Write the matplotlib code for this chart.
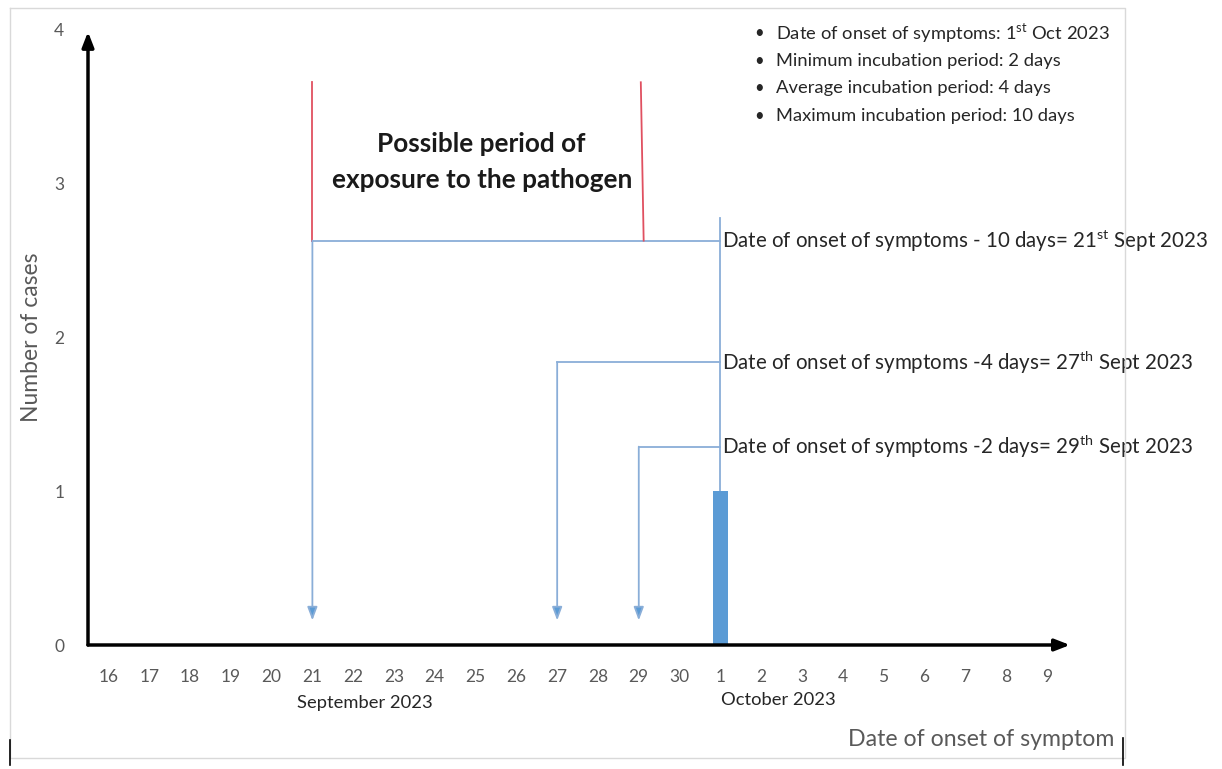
import numpy as np
import matplotlib.pyplot as plt

plt.rcParams['font.family'] = ['Lato', 'DejaVu Sans']
plt.rcParams['mathtext.fontset'] = 'custom'
plt.rcParams['mathtext.rm'] = 'Lato'

# DATA
sept_days = list(range(16, 31))
oct_days = list(range(1, 10))
day_labels = [str(d) for d in sept_days + oct_days]
onset_label = '1'            # 1st Oct 2023
cases = [1]                  # cases on onset day
incubation_days = [10, 4, 2]  # max, average, min
incubation_texts = [
    r'Date of onset of symptoms - 10 days= 21$^{\mathrm{st}}$ Sept 2023',
    r'Date of onset of symptoms -4 days= 27$^{\mathrm{th}}$ Sept 2023',
    r'Date of onset of symptoms -2 days= 29$^{\mathrm{th}}$ Sept 2023',
]
bullets = [
    r'Date of onset of symptoms: 1$^{\mathrm{st}}$ Oct 2023',
    'Minimum incubation period: 2 days',
    'Average incubation period: 4 days',
    'Maximum incubation period: 10 days',
]

BLUE = '#5b9bd5'
LINE = '#8aaed8'
GRAY = '#595959'

W, H = 1222, 769
fig = plt.figure(figsize=(W / 100, H / 100), dpi=100)
ax = fig.add_axes([88 / W, (H - 645) / H, (1070 - 88) / W, (645 - 30) / H])

x = np.arange(len(day_labels))
onset = day_labels.index(onset_label, len(sept_days))
ax.bar([onset], cases, width=0.36, color=BLUE, zorder=3)

ax.set_xlim(-0.5, 23.57)
ax.set_ylim(0, 4)
for s in ax.spines.values():
    s.set_visible(False)
ax.set_xticks(x)
ax.set_xticklabels(day_labels)
ax.set_yticks([0, 1, 2, 3, 4])
ax.tick_params(length=0, labelcolor=GRAY, labelsize=12.5)
ax.tick_params(axis='x', pad=17)
ax.tick_params(axis='y', pad=17)
ax.set_ylabel('Number of cases', color=GRAY, fontsize=16.5)
ax.yaxis.set_label_coords(-46 / 982, 0.5)

# axis arrows
ax.annotate('', xy=(1.0, 0), xytext=(0, 0), xycoords='axes fraction',
            arrowprops=dict(arrowstyle='-|>,head_length=0.9,head_width=0.35',
                            lw=2.5, color='black', shrinkA=0, shrinkB=0))
ax.annotate('', xy=(0, 0.997), xytext=(0, 0), xycoords='axes fraction',
            arrowprops=dict(arrowstyle='-|>,head_length=0.9,head_width=0.35',
                            lw=2.5, color='black', shrinkA=0, shrinkB=0))

# incubation arrows
levels = [2.63, 1.84, 1.29]
for days, lev, txt in zip(incubation_days, levels, incubation_texts):
    xs = onset - days
    ax.plot([xs, onset], [lev, lev], color=LINE, lw=1.3, zorder=2)
    ax.annotate('', xy=(xs, 0.16), xytext=(xs, lev),
                arrowprops=dict(arrowstyle='-|>,head_length=0.8,head_width=0.3',
                                lw=1.3, color=LINE, fc=BLUE, shrinkA=0, shrinkB=0))
    ax.text(onset + 0.05, lev, txt, fontsize=14.8, va='center', ha='left', color='#262626')
ax.plot([onset, onset], [2.78, 1.0], color=LINE, lw=1.3, zorder=2)

# possible exposure period
start = onset - max(incubation_days)
end = onset - min(incubation_days)
ax.plot([start, start], [2.63, 3.66], color='#e05060', lw=1.3)
ax.plot([end + 0.05, end + 0.12], [3.66, 2.63], color='#e05060', lw=1.3)
ax.text(9.15, 3.14, 'Possible period of\nexposure to the pathogen', fontsize=18.8,
        fontweight='bold', ha='center', va='center', linespacing=1.6, color='#1a1a1a')

# month labels
fig.text(365 / W, 1 - 703 / H, 'September 2023', fontsize=13.2, ha='center', va='center', color='#262626')
fig.text(778 / W, 1 - 700 / H, 'October 2023', fontsize=13.2, ha='center', va='center', color='#262626')
fig.text(1114 / W, 1 - 740 / H, 'Date of onset of symptom', fontsize=16.7, ha='right', va='center', color=GRAY)

# bullet notes
for i, b in enumerate(bullets):
    yy = 1 - (33 + i * 27.7) / H
    fig.text(759 / W, yy, '\u2022', fontsize=12, ha='center', va='center', color='#262626')
    fig.text(776 / W, yy, b, fontsize=13.2, ha='left', va='center', color='#262626')

# frame
fig.add_artist(plt.Line2D([10 / W, 1125 / W, 1125 / W, 10 / W, 10 / W],
                          [1 - 8 / H, 1 - 8 / H, 1 - 758 / H, 1 - 758 / H, 1 - 8 / H],
                          color='#d9d9d9', lw=1))
fig.add_artist(plt.Line2D([10 / W, 10 / W], [1 - 740 / H, 1 - 765 / H], color='black', lw=1.2))
fig.add_artist(plt.Line2D([1123 / W, 1123 / W], [1 - 738 / H, 1 - 765 / H], color='black', lw=1.2))

fig.savefig('out.png', dpi=100)
